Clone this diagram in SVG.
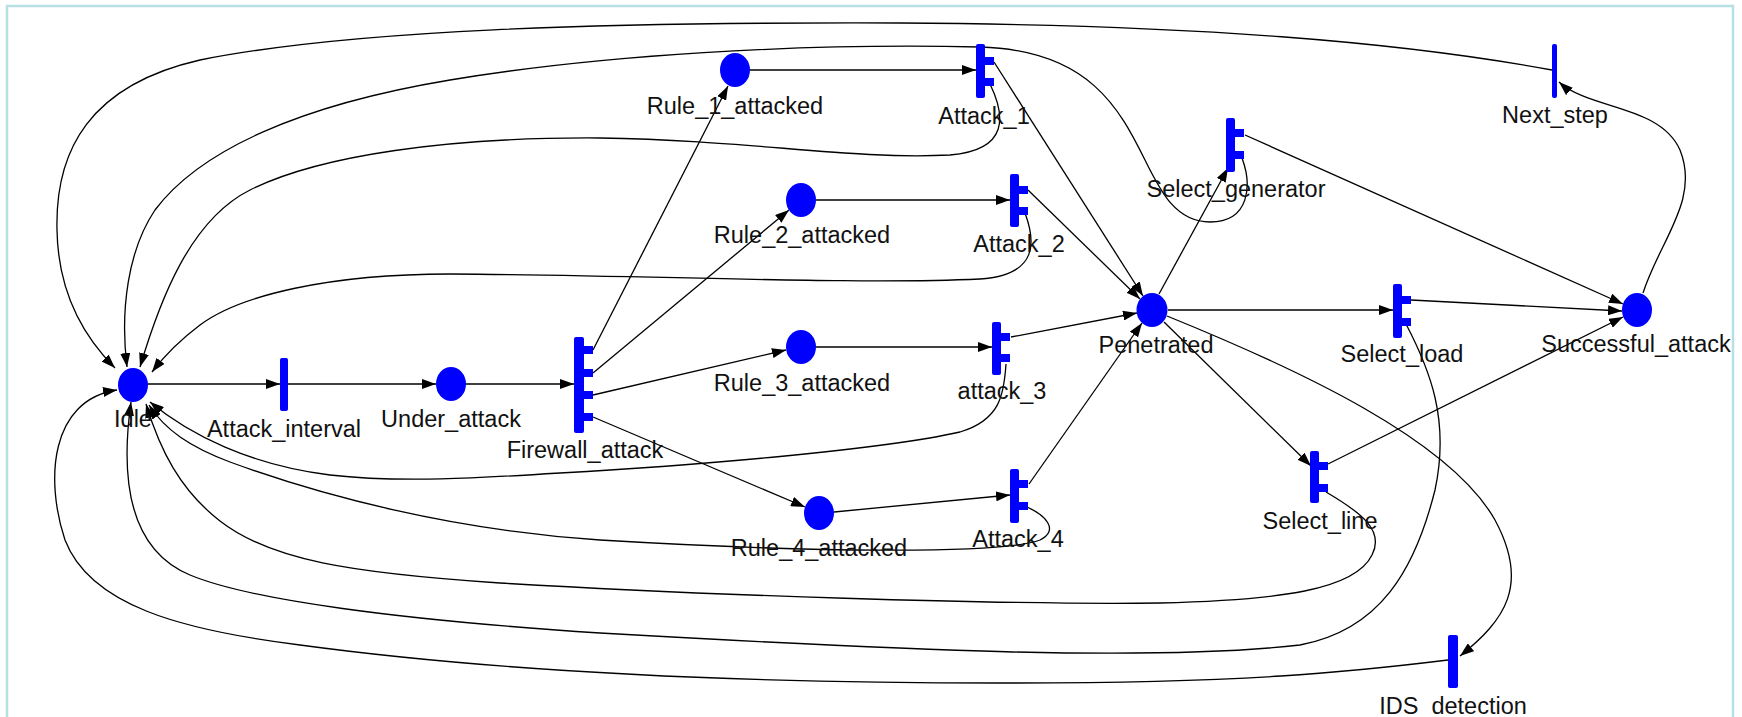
<svg xmlns="http://www.w3.org/2000/svg" width="1742" height="717" viewBox="0 0 1742 717">
<style>
.pl{fill:#0000ff}
.tr{fill:#0000ff}
.lb{font-family:"Liberation Sans",Arial,sans-serif;font-size:23.5px;fill:#111;text-anchor:middle}
.ed{fill:none;stroke:#000;stroke-width:1.3;marker-end:url(#ah)}
</style>
<defs>
<marker id="ah" viewBox="0 0 14 10" refX="14" refY="5" markerWidth="14" markerHeight="10" markerUnits="userSpaceOnUse" orient="auto"><path d="M0,0 L14,5 L0,10 z" fill="#000"/></marker>
</defs>
<rect width="1742" height="717" fill="#fff"/>
<rect x="7" y="6" width="1726" height="800" fill="none" stroke="#b7e0e4" stroke-width="2.5"/>

<g id="connectors">
<path class="ed" d="M148,384 L280,384"/>
<path class="ed" d="M288,384 L436,384"/>
<path class="ed" d="M466,384 L574,384"/>
<path class="ed" d="M593,350 L728,86"/>
<path class="ed" d="M593,373 L789,210"/>
<path class="ed" d="M593,395 L786,350"/>
<path class="ed" d="M593,417 L805,507"/>
<path class="ed" d="M750,70 L976,70"/>
<path class="ed" d="M816,200 L1010,200"/>
<path class="ed" d="M816,347 L992,347"/>
<path class="ed" d="M834,512 L1010,495"/>
<path class="ed" d="M994,62 L1143,296"/>
<path class="ed" d="M1028,190 L1140,299"/>
<path class="ed" d="M1011,337 L1137,313"/>
<path class="ed" d="M1029,484 L1142,323"/>
<path class="ed" d="M1159,294 L1228,168"/>
<path class="ed" d="M1245,135 L1623,304"/>
<path class="ed" d="M1168,310 L1393,310"/>
<path class="ed" d="M1411,300 L1622,311"/>
<path class="ed" d="M1164,322 L1311,466"/>
<path class="ed" d="M1328,464 L1623,317"/>
<path class="ed" d="M1167,316 C1300,370 1450,440 1495,520 C1530,585 1505,620 1460,656"/>
<path class="ed" d="M1643,293 C1660,240 1700,200 1680,150 C1660,105 1590,110 1559,82"/>
<path class="ed" d="M1552,70 C1400,42 1200,25 900,23 C600,22 350,30 200,60 C90,85 55,150 57,230 C58,290 82,335 115,368"/>
<path class="ed" d="M1242,158 C1252,185 1250,222 1210,222 C1175,222 1160,190 1145,160 C1120,110 1090,50 980,47 C800,43 600,55 450,80 C300,105 200,150 155,210 C128,250 120,310 127,367"/>
<path class="ed" d="M990,84 C1005,115 1010,150 950,155 C850,160 750,140 600,138 C450,137 320,155 250,190 C190,220 160,300 140,367"/>
<path class="ed" d="M1025,213 C1035,240 1040,275 980,279 C850,285 650,275 450,274 C330,274 240,295 200,325 C180,340 165,355 152,372"/>
<path class="ed" d="M1006,364 C1004,395 1000,420 960,432 C880,450 700,465 560,473 C480,478 400,483 330,475 C250,465 190,435 150,402"/>
<path class="ed" d="M1027,507 C1045,515 1060,530 1040,540 C1000,555 800,552 600,540 C450,530 320,495 230,462 C190,447 165,430 149,405"/>
<path class="ed" d="M1326,492 C1360,512 1385,530 1372,555 C1355,590 1280,600 1160,603 C1000,605 700,595 500,583 C350,573 270,560 220,521 C180,490 160,450 146,404"/>
<path class="ed" d="M1406,324 C1430,370 1450,420 1435,490 C1415,570 1380,630 1300,645 C1150,662 900,650 600,633 C400,620 250,600 190,575 C130,550 120,480 131,402"/>
<path class="ed" d="M1448,660 C1350,672 1250,683 1000,683 C750,683 500,672 300,645 C180,630 90,605 65,540 C45,480 50,400 117,390"/>
</g>

<g id="Idle"><ellipse class="pl" cx="133" cy="385" rx="15" ry="17"/><text class="lb" x="133" y="427">Idle</text></g>
<g id="Attack_interval"><rect class="tr" x="280" y="358" width="8" height="53" rx="2"/><text class="lb" x="284" y="437">Attack_interval</text></g>
<g id="Under_attack"><ellipse class="pl" cx="451" cy="384" rx="15" ry="17"/><text class="lb" x="451" y="427">Under_attack</text></g>
<g id="Firewall_attack"><rect class="tr" x="574" y="337" width="10" height="96" rx="2"/><rect class="tr" x="584" y="346" width="9" height="8"/><rect class="tr" x="584" y="369" width="9" height="8"/><rect class="tr" x="584" y="391" width="9" height="8"/><rect class="tr" x="584" y="413" width="9" height="8"/><text class="lb" x="585" y="458">Firewall_attack</text></g>
<g id="Rule_1_attacked"><ellipse class="pl" cx="735" cy="70" rx="15" ry="17"/><text class="lb" x="735" y="114">Rule_1_attacked</text></g>
<g id="Attack_1"><rect class="tr" x="976" y="44" width="9" height="54" rx="2"/><rect class="tr" x="985" y="57" width="9" height="8"/><rect class="tr" x="985" y="78" width="9" height="8"/><text class="lb" x="984" y="124">Attack_1</text></g>
<g id="Rule_2_attacked"><ellipse class="pl" cx="801" cy="200" rx="15" ry="17"/><text class="lb" x="802" y="243">Rule_2_attacked</text></g>
<g id="Attack_2"><rect class="tr" x="1010" y="174" width="9" height="53" rx="2"/><rect class="tr" x="1019" y="186" width="9" height="8"/><rect class="tr" x="1019" y="207" width="9" height="8"/><text class="lb" x="1019" y="252">Attack_2</text></g>
<g id="Rule_3_attacked"><ellipse class="pl" cx="801" cy="347" rx="15" ry="17"/><text class="lb" x="802" y="391">Rule_3_attacked</text></g>
<g id="attack_3"><rect class="tr" x="992" y="322" width="9" height="53" rx="2"/><rect class="tr" x="1001" y="333" width="9" height="8"/><rect class="tr" x="1001" y="354" width="9" height="8"/><text class="lb" x="1002" y="399">attack_3</text></g>
<g id="Rule_4_attacked"><ellipse class="pl" cx="819" cy="513" rx="15" ry="17"/><text class="lb" x="819" y="556">Rule_4_attacked</text></g>
<g id="Attack_4"><rect class="tr" x="1010" y="469" width="9" height="54" rx="2"/><rect class="tr" x="1019" y="480" width="9" height="8"/><rect class="tr" x="1019" y="502" width="9" height="8"/><text class="lb" x="1018" y="547">Attack_4</text></g>
<g id="Penetrated"><ellipse class="pl" cx="1152" cy="310" rx="15.5" ry="17"/><text class="lb" x="1156" y="353">Penetrated</text></g>
<g id="Select_generator"><rect class="tr" x="1226" y="118" width="9" height="54" rx="2"/><rect class="tr" x="1235" y="129" width="9" height="8"/><rect class="tr" x="1235" y="151" width="9" height="8"/><text class="lb" x="1236" y="197">Select_generator</text></g>
<g id="Next_step"><rect class="tr" x="1552" y="44" width="5" height="54" rx="2"/><text class="lb" x="1555" y="123">Next_step</text></g>
<g id="Select_load"><rect class="tr" x="1393" y="284" width="9" height="54" rx="2"/><rect class="tr" x="1402" y="296" width="9" height="8"/><rect class="tr" x="1402" y="318" width="9" height="8"/><text class="lb" x="1402" y="362">Select_load</text></g>
<g id="Successful_attack"><ellipse class="pl" cx="1637" cy="310" rx="15" ry="17"/><text class="lb" x="1636" y="352">Successful_attack</text></g>
<g id="Select_line"><rect class="tr" x="1310" y="451" width="9" height="52" rx="2"/><rect class="tr" x="1319" y="462" width="9" height="8"/><rect class="tr" x="1319" y="484" width="9" height="8"/><text class="lb" x="1320" y="529">Select_line</text></g>
<g id="IDS_detection"><rect class="tr" x="1448" y="635" width="10" height="53" rx="2"/><text class="lb" x="1453" y="714">IDS_detection</text></g>
</svg>
